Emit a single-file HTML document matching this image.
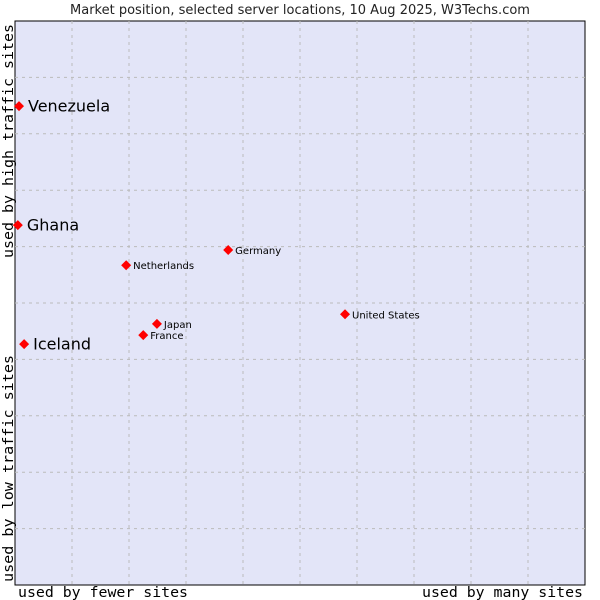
<!DOCTYPE html>
<html><head><meta charset="utf-8"><style>
body{margin:0;background:#fff;}
svg{display:block;}
</style></head><body>
<svg id="chart" width="600" height="600" xmlns="http://www.w3.org/2000/svg">
<rect x="0" y="0" width="600" height="600" fill="#fff"/>
<text x="300" y="14" text-anchor="middle" font-family="DejaVu Sans, Liberation Sans, sans-serif" font-size="13" fill="#222">Market position, selected server locations, 10 Aug 2025, W3Techs.com</text>
<rect x="15" y="21" width="570" height="564" fill="#e3e5f8" stroke="#000" stroke-width="1"/>
<g id="grid"></g>
<g id="points"></g>
<text x="18" y="597" textLength="170" lengthAdjust="spacingAndGlyphs" font-family="DejaVu Sans Mono, Liberation Mono, monospace" font-size="14" fill="#000">used by fewer sites</text>
<text x="422" y="597" textLength="161" lengthAdjust="spacingAndGlyphs" font-family="DejaVu Sans Mono, Liberation Mono, monospace" font-size="14" fill="#000">used by many sites</text>
<text transform="translate(13,582) rotate(-90)" textLength="227" lengthAdjust="spacingAndGlyphs" font-family="DejaVu Sans Mono, Liberation Mono, monospace" font-size="14" fill="#000">used by low traffic sites</text>
<text transform="translate(13,258) rotate(-90)" textLength="234" lengthAdjust="spacingAndGlyphs" font-family="DejaVu Sans Mono, Liberation Mono, monospace" font-size="14" fill="#000">used by high traffic sites</text>
</svg>
<script>
const countries = ["Venezuela","Ghana","Iceland","Netherlands","Germany","United States","Japan","France"];
const xValues = [0.7,0.5,1.6,19.5,37.4,57.9,24.9,22.5];
const yValues = [84.9,63.8,42.7,56.7,59.4,48.0,46.3,44.3];
const bigLabel = [true,true,true,false,false,false,false,false];
const gridTicks = [10,20,30,40,50,60,70,80,90];

const X0=15,X1=585,Y0=21,Y1=585;
function sx(v){return X0+(X1-X0)*v/100;}
function sy(v){return Y1-(Y1-Y0)*v/100;}
const NS="http://www.w3.org/2000/svg";
const grid=document.getElementById('grid');
gridTicks.forEach(t=>{
  const v=document.createElementNS(NS,'line');
  v.setAttribute('x1',sx(t));v.setAttribute('x2',sx(t));v.setAttribute('y1',Y0);v.setAttribute('y2',Y1);
  v.setAttribute('stroke','#bbb');v.setAttribute('stroke-dasharray','3,4');
  
  
  grid.appendChild(v);
  const h=document.createElementNS(NS,'line');
  h.setAttribute('y1',sy(t));h.setAttribute('y2',sy(t));h.setAttribute('x1',X0);h.setAttribute('x2',X1);
  h.setAttribute('stroke','#bbb');h.setAttribute('stroke-dasharray','3,4');
  
  
  grid.appendChild(h);
});
const pts=document.getElementById('points');
countries.forEach((c,i)=>{
  const x=sx(xValues[i]),y=sy(yValues[i]);
  const d=document.createElementNS(NS,'polygon');
  d.setAttribute('points',`${x},${y-5} ${x+5},${y} ${x},${y+5} ${x-5},${y}`);
  d.setAttribute('fill','#f00');
  
  
  pts.appendChild(d);
  const t=document.createElementNS(NS,'text');
  const big=bigLabel[i];
  t.setAttribute('x',x+(big?9:7));
  t.setAttribute('y',y+(big?5.5:4));
  t.setAttribute('font-family','DejaVu Sans, Liberation Sans, sans-serif');
  t.setAttribute('font-size',big?16:10);
  t.setAttribute('fill','#000');
  t.textContent=c;
  
  
  pts.appendChild(t);
});
</script>
</body></html>
